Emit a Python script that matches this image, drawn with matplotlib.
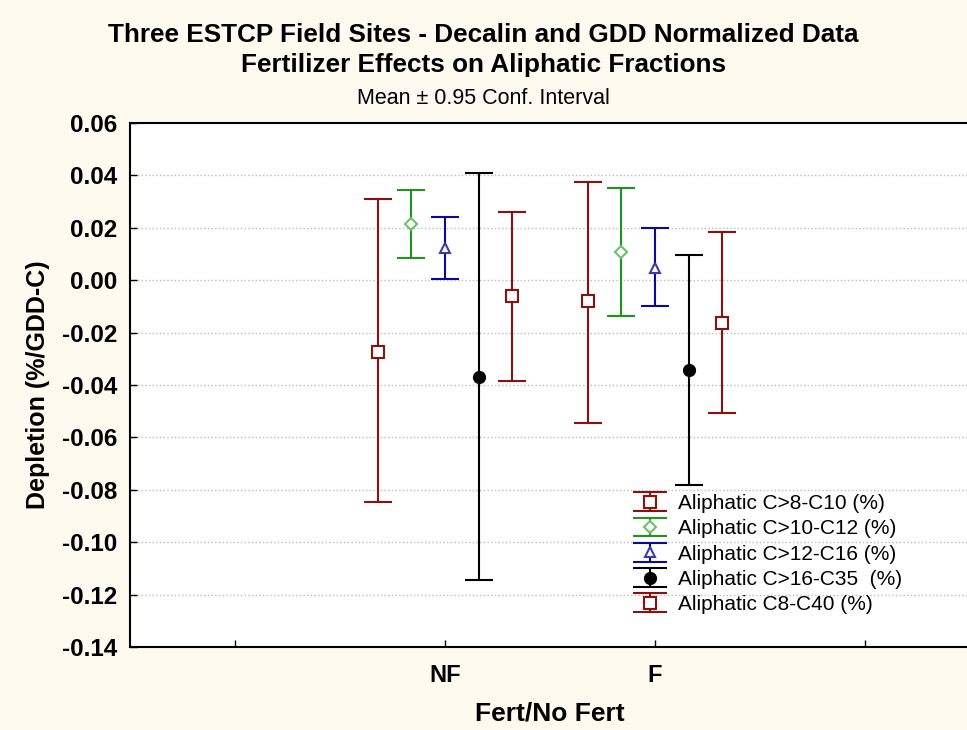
import matplotlib
matplotlib.use("Agg")
import numpy as np
import matplotlib.pyplot as plt
from matplotlib.legend_handler import HandlerErrorbar
from matplotlib.lines import Line2D

# data (Mean +/- 0.95 CI)
GROUPS = ["NF", "F"]
SERIES = ["Aliphatic C>8-C10 (%)", "Aliphatic C>10-C12 (%)", "Aliphatic C>12-C16 (%)",
          "Aliphatic C>16-C35  (%)", "Aliphatic C8-C40 (%)"]
MEANS = [[-0.0274, -0.0081],
         [0.0213, 0.0106],
         [0.0121, 0.0048],
         [-0.0370, -0.0341],
         [-0.0060, -0.0163]]
UPPER = [[0.0309, 0.0374],
         [0.0345, 0.0350],
         [0.0240, 0.0200],
         [0.0408, 0.0098],
         [0.0262, 0.0183]]
LOWER = [[-0.0847, -0.0546],
         [0.0085, -0.0136],
         [0.0004, -0.0100],
         [-0.1143, -0.0781],
         [-0.0384, -0.0508]]

BG = "#fffaf0"
SANS = ["Liberation Sans", "DejaVu Sans"]
plt.rcParams["font.family"] = SANS

STYLE = [
    dict(color="#8b1010", marker="s", mfc="white", mec="#8b1010", ms=8.5),
    dict(color="#1e961e", marker="D", mfc="white", mec="#6cc06c", ms=6),
    dict(color="#0a0a96", marker="^", mfc="white", mec="#3a3aa8", ms=7.5),
    dict(color="black", marker="o", mfc="black", mec="black", ms=8),
    dict(color="#8b1010", marker="s", mfc="white", mec="#8b1010", ms=8.5),
]
OFFSETS = [-0.32, -0.16, 0.0, 0.16, 0.32]


class WideCapHandler(HandlerErrorbar):
    def create_artists(self, *args, **kwargs):
        arts = super().create_artists(*args, **kwargs)
        for a in arts:
            if isinstance(a, Line2D) and a.get_marker() == "_":
                a.set_markersize(24)
                a.set_markeredgewidth(1.5)
        return arts


fig = plt.figure(figsize=(9.67, 7.3), dpi=100, facecolor=BG)
ax = fig.add_axes([130 / 967, 83 / 730, 840 / 967, 524 / 730])
ax.set_facecolor("white")

centers = np.arange(2, 2 + len(GROUPS))
handles = []
for i, name in enumerate(SERIES):
    m = np.array(MEANS[i])
    lo = m - np.array(LOWER[i])
    hi = np.array(UPPER[i]) - m
    st = STYLE[i]
    h = ax.errorbar(centers + OFFSETS[i], m, yerr=[lo, hi], fmt=st["marker"],
                    color=st["color"], ecolor=st["color"], elinewidth=1.5,
                    capsize=10, capthick=1.5, mfc=st["mfc"], mec=st["mec"],
                    mew=1.5, ms=st["ms"], label=name, zorder=3)
    handles.append(h)

ax.set_xlim(0.5, 4.5)
ax.set_ylim(-0.14, 0.06)
ax.set_xticks([1, 2, 3, 4])
ax.set_xticklabels(["", "NF", "F", ""], fontsize=17, fontweight="bold")
yt = np.arange(-0.14, 0.0601, 0.02)
ax.set_yticks(yt)
ax.set_yticklabels([f"{v:.2f}" for v in yt], fontsize=17.5, fontweight="bold")
ax.tick_params(direction="in", length=5, width=1, pad=9)
ax.tick_params(axis="x", pad=12)
ax.yaxis.grid(True, ls=":", color="#bbbbbb", lw=1)
for s in ax.spines.values():
    s.set_linewidth(1.5)

ax.set_ylabel("Depletion (%/GDD-C)", fontsize=18, fontweight="bold", labelpad=9)
ax.set_xlabel("Fert/No Fert", fontsize=19, fontweight="bold", labelpad=11)

fig.text(0.5, 1 - 35 / 730, "Three ESTCP Field Sites - Decalin and GDD Normalized Data",
         ha="center", va="center", fontsize=18.8, fontweight="bold")
fig.text(0.5, 1 - 65 / 730, "Fertilizer Effects on Aliphatic Fractions",
         ha="center", va="center", fontsize=18.8, fontweight="bold")
fig.text(0.5, 1 - 98 / 730, "Mean \u00b1 0.95 Conf. Interval",
         ha="center", va="center", fontsize=15.5)

leg = ax.legend(handles=handles, loc="lower left", bbox_to_anchor=(0.5745, 0.027),
                frameon=False, prop={"size": 15},
                handlelength=1.8, handletextpad=0.45, labelspacing=0.3,
                handler_map={type(handles[0]): WideCapHandler(yerr_size=0.45)})

fig.savefig("out.png", dpi=100, facecolor=BG)
